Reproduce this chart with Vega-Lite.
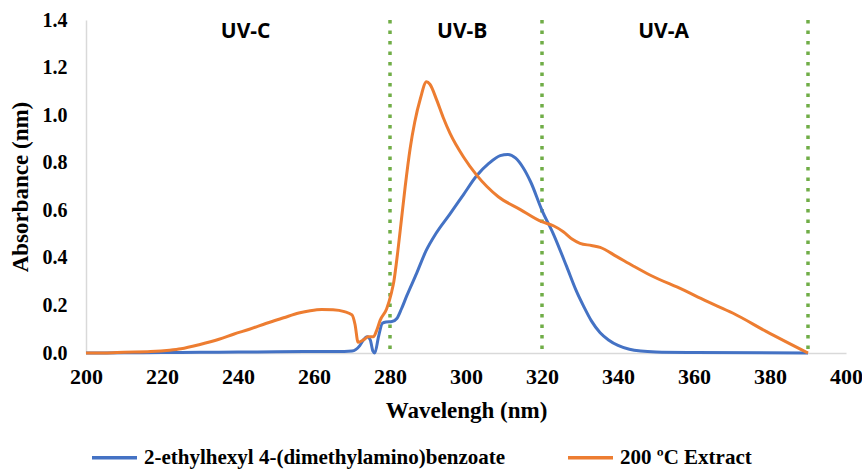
{
  "$schema": "https://vega.github.io/schema/vega-lite/v6.json",
  "autosize": {"type": "none"},
  "padding": {"left": 86, "top": 20, "right": 16, "bottom": 117},
  "width": 760,
  "height": 333,
  "background": "white",
  "config": {
    "view": {"stroke": null},
    "axis": {
      "labelFont": "Liberation Serif",
      "labelFontWeight": "bold",
      "labelColor": "black",
      "labelFlush": false,
      "titleFont": "Liberation Serif",
      "titleFontWeight": "bold",
      "titleColor": "black",
      "titleFontSize": 23,
      "grid": false,
      "ticks": false,
      "domainColor": "#d9d9d9",
      "domainWidth": 1.5
    }
  },
  "datasets": {
    "spectra": [
      {"series": "2-ethylhexyl 4-(dimethylamino)benzoate", "nm": 200, "abs": 0.0},
      {"series": "2-ethylhexyl 4-(dimethylamino)benzoate", "nm": 210, "abs": 0.001},
      {"series": "2-ethylhexyl 4-(dimethylamino)benzoate", "nm": 220, "abs": 0.002},
      {"series": "2-ethylhexyl 4-(dimethylamino)benzoate", "nm": 230, "abs": 0.003},
      {"series": "2-ethylhexyl 4-(dimethylamino)benzoate", "nm": 240, "abs": 0.004},
      {"series": "2-ethylhexyl 4-(dimethylamino)benzoate", "nm": 250, "abs": 0.005},
      {"series": "2-ethylhexyl 4-(dimethylamino)benzoate", "nm": 260, "abs": 0.006},
      {"series": "2-ethylhexyl 4-(dimethylamino)benzoate", "nm": 268, "abs": 0.006},
      {"series": "2-ethylhexyl 4-(dimethylamino)benzoate", "nm": 270, "abs": 0.008},
      {"series": "2-ethylhexyl 4-(dimethylamino)benzoate", "nm": 272, "abs": 0.03},
      {"series": "2-ethylhexyl 4-(dimethylamino)benzoate", "nm": 273, "abs": 0.055},
      {"series": "2-ethylhexyl 4-(dimethylamino)benzoate", "nm": 274, "abs": 0.068},
      {"series": "2-ethylhexyl 4-(dimethylamino)benzoate", "nm": 274.8, "abs": 0.055},
      {"series": "2-ethylhexyl 4-(dimethylamino)benzoate", "nm": 275.5, "abs": 0.008},
      {"series": "2-ethylhexyl 4-(dimethylamino)benzoate", "nm": 276, "abs": 0.0},
      {"series": "2-ethylhexyl 4-(dimethylamino)benzoate", "nm": 277, "abs": 0.07},
      {"series": "2-ethylhexyl 4-(dimethylamino)benzoate", "nm": 278, "abs": 0.125},
      {"series": "2-ethylhexyl 4-(dimethylamino)benzoate", "nm": 279, "abs": 0.13},
      {"series": "2-ethylhexyl 4-(dimethylamino)benzoate", "nm": 280.5, "abs": 0.132},
      {"series": "2-ethylhexyl 4-(dimethylamino)benzoate", "nm": 281.8, "abs": 0.145},
      {"series": "2-ethylhexyl 4-(dimethylamino)benzoate", "nm": 283, "abs": 0.185},
      {"series": "2-ethylhexyl 4-(dimethylamino)benzoate", "nm": 284.4, "abs": 0.24},
      {"series": "2-ethylhexyl 4-(dimethylamino)benzoate", "nm": 287, "abs": 0.335},
      {"series": "2-ethylhexyl 4-(dimethylamino)benzoate", "nm": 289.5, "abs": 0.43},
      {"series": "2-ethylhexyl 4-(dimethylamino)benzoate", "nm": 292, "abs": 0.5},
      {"series": "2-ethylhexyl 4-(dimethylamino)benzoate", "nm": 295.8, "abs": 0.585},
      {"series": "2-ethylhexyl 4-(dimethylamino)benzoate", "nm": 299.3, "abs": 0.665},
      {"series": "2-ethylhexyl 4-(dimethylamino)benzoate", "nm": 302.8, "abs": 0.745},
      {"series": "2-ethylhexyl 4-(dimethylamino)benzoate", "nm": 306, "abs": 0.797},
      {"series": "2-ethylhexyl 4-(dimethylamino)benzoate", "nm": 309, "abs": 0.83},
      {"series": "2-ethylhexyl 4-(dimethylamino)benzoate", "nm": 311, "abs": 0.835},
      {"series": "2-ethylhexyl 4-(dimethylamino)benzoate", "nm": 313, "abs": 0.82},
      {"series": "2-ethylhexyl 4-(dimethylamino)benzoate", "nm": 315, "abs": 0.78},
      {"series": "2-ethylhexyl 4-(dimethylamino)benzoate", "nm": 317, "abs": 0.72},
      {"series": "2-ethylhexyl 4-(dimethylamino)benzoate", "nm": 320, "abs": 0.6},
      {"series": "2-ethylhexyl 4-(dimethylamino)benzoate", "nm": 323, "abs": 0.5},
      {"series": "2-ethylhexyl 4-(dimethylamino)benzoate", "nm": 326.5, "abs": 0.363},
      {"series": "2-ethylhexyl 4-(dimethylamino)benzoate", "nm": 329, "abs": 0.262},
      {"series": "2-ethylhexyl 4-(dimethylamino)benzoate", "nm": 331, "abs": 0.195},
      {"series": "2-ethylhexyl 4-(dimethylamino)benzoate", "nm": 333, "abs": 0.135},
      {"series": "2-ethylhexyl 4-(dimethylamino)benzoate", "nm": 335.3, "abs": 0.085},
      {"series": "2-ethylhexyl 4-(dimethylamino)benzoate", "nm": 337.5, "abs": 0.055},
      {"series": "2-ethylhexyl 4-(dimethylamino)benzoate", "nm": 340, "abs": 0.032},
      {"series": "2-ethylhexyl 4-(dimethylamino)benzoate", "nm": 343, "abs": 0.016},
      {"series": "2-ethylhexyl 4-(dimethylamino)benzoate", "nm": 346, "abs": 0.008},
      {"series": "2-ethylhexyl 4-(dimethylamino)benzoate", "nm": 350, "abs": 0.004},
      {"series": "2-ethylhexyl 4-(dimethylamino)benzoate", "nm": 360, "abs": 0.002},
      {"series": "2-ethylhexyl 4-(dimethylamino)benzoate", "nm": 390, "abs": 0.0},
      {"series": "200 ºC Extract", "nm": 200, "abs": 0.0},
      {"series": "200 ºC Extract", "nm": 205, "abs": 0.0},
      {"series": "200 ºC Extract", "nm": 210, "abs": 0.003},
      {"series": "200 ºC Extract", "nm": 217, "abs": 0.006},
      {"series": "200 ºC Extract", "nm": 222, "abs": 0.012},
      {"series": "200 ºC Extract", "nm": 225, "abs": 0.018},
      {"series": "200 ºC Extract", "nm": 230, "abs": 0.036},
      {"series": "200 ºC Extract", "nm": 235, "abs": 0.058},
      {"series": "200 ºC Extract", "nm": 239, "abs": 0.08},
      {"series": "200 ºC Extract", "nm": 243, "abs": 0.1},
      {"series": "200 ºC Extract", "nm": 247.5, "abs": 0.125},
      {"series": "200 ºC Extract", "nm": 252, "abs": 0.148},
      {"series": "200 ºC Extract", "nm": 256, "abs": 0.168},
      {"series": "200 ºC Extract", "nm": 259, "abs": 0.178},
      {"series": "200 ºC Extract", "nm": 262, "abs": 0.183},
      {"series": "200 ºC Extract", "nm": 265, "abs": 0.182},
      {"series": "200 ºC Extract", "nm": 268, "abs": 0.174},
      {"series": "200 ºC Extract", "nm": 270, "abs": 0.16},
      {"series": "200 ºC Extract", "nm": 270.8, "abs": 0.12},
      {"series": "200 ºC Extract", "nm": 271.6, "abs": 0.045},
      {"series": "200 ºC Extract", "nm": 273, "abs": 0.055},
      {"series": "200 ºC Extract", "nm": 274.3, "abs": 0.068},
      {"series": "200 ºC Extract", "nm": 275.6, "abs": 0.068},
      {"series": "200 ºC Extract", "nm": 276.5, "abs": 0.095},
      {"series": "200 ºC Extract", "nm": 277.4, "abs": 0.137},
      {"series": "200 ºC Extract", "nm": 279.1, "abs": 0.185},
      {"series": "200 ºC Extract", "nm": 280.4, "abs": 0.255},
      {"series": "200 ºC Extract", "nm": 281, "abs": 0.3},
      {"series": "200 ºC Extract", "nm": 282, "abs": 0.42},
      {"series": "200 ºC Extract", "nm": 283, "abs": 0.56},
      {"series": "200 ºC Extract", "nm": 284, "abs": 0.7},
      {"series": "200 ºC Extract", "nm": 285.3, "abs": 0.86},
      {"series": "200 ºC Extract", "nm": 286.5, "abs": 0.97},
      {"series": "200 ºC Extract", "nm": 288, "abs": 1.07},
      {"series": "200 ºC Extract", "nm": 289.6, "abs": 1.14},
      {"series": "200 ºC Extract", "nm": 290.5, "abs": 1.13},
      {"series": "200 ºC Extract", "nm": 292.3, "abs": 1.063},
      {"series": "200 ºC Extract", "nm": 294, "abs": 0.99},
      {"series": "200 ºC Extract", "nm": 295.8, "abs": 0.923},
      {"series": "200 ºC Extract", "nm": 299.3, "abs": 0.825},
      {"series": "200 ºC Extract", "nm": 302.8, "abs": 0.748},
      {"series": "200 ºC Extract", "nm": 305.5, "abs": 0.7},
      {"series": "200 ºC Extract", "nm": 308.5, "abs": 0.657},
      {"series": "200 ºC Extract", "nm": 314.2, "abs": 0.604},
      {"series": "200 ºC Extract", "nm": 319.9, "abs": 0.552},
      {"series": "200 ºC Extract", "nm": 323, "abs": 0.535},
      {"series": "200 ºC Extract", "nm": 325.6, "abs": 0.51},
      {"series": "200 ºC Extract", "nm": 328, "abs": 0.478},
      {"series": "200 ºC Extract", "nm": 330, "abs": 0.461},
      {"series": "200 ºC Extract", "nm": 333, "abs": 0.452},
      {"series": "200 ºC Extract", "nm": 335.3, "abs": 0.444},
      {"series": "200 ºC Extract", "nm": 339.7, "abs": 0.405},
      {"series": "200 ºC Extract", "nm": 344, "abs": 0.366},
      {"series": "200 ºC Extract", "nm": 348.4, "abs": 0.328},
      {"series": "200 ºC Extract", "nm": 357.2, "abs": 0.265},
      {"series": "200 ºC Extract", "nm": 363, "abs": 0.22},
      {"series": "200 ºC Extract", "nm": 370.3, "abs": 0.167},
      {"series": "200 ºC Extract", "nm": 379.1, "abs": 0.09},
      {"series": "200 ºC Extract", "nm": 390, "abs": 0.0}
    ],
    "bands": [
      {"edge": 280},
      {"edge": 320},
      {"edge": 390}
    ],
    "regions": [
      {"name": "UV-C", "center": 242, "level": 1.35},
      {"name": "UV-B", "center": 299, "level": 1.35},
      {"name": "UV-A", "center": 352, "level": 1.35}
    ]
  },
  "layer": [
    {
      "data": {"name": "bands"},
      "mark": {"type": "rule", "color": "#70AD47", "strokeWidth": 3.5, "strokeDash": [3.5, 7]},
      "encoding": {
        "x": {"field": "edge", "type": "quantitative", "scale": {"domain": [200, 400]}}
      }
    },
    {
      "data": {"name": "spectra"},
      "mark": {"type": "line", "strokeWidth": 3, "interpolate": "monotone"},
      "encoding": {
        "x": {
          "field": "nm",
          "type": "quantitative",
          "scale": {"domain": [200, 400], "nice": false},
          "axis": {
            "title": "Wavelengh (nm)",
            "values": [200, 220, 240, 260, 280, 300, 320, 340, 360, 380, 400],
            "labelFontSize": 22,
            "labelPadding": 13,
            "titlePadding": 12
          }
        },
        "y": {
          "field": "abs",
          "type": "quantitative",
          "scale": {"domain": [0, 1.4], "nice": false},
          "axis": {
            "title": "Absorbance (nm)",
            "values": [0, 0.2, 0.4, 0.6, 0.8, 1.0, 1.2, 1.4],
            "format": ".1f",
            "labelFontSize": 20,
            "labelPadding": 19,
            "titlePadding": 10
          }
        },
        "color": {
          "field": "series",
          "type": "nominal",
          "scale": {
            "domain": ["2-ethylhexyl 4-(dimethylamino)benzoate", "200 ºC Extract"],
            "range": ["#4472C4", "#ED7D31"]
          },
          "legend": {
            "title": null,
            "orient": "none",
            "direction": "horizontal",
            "legendX": 4,
            "legendY": 413,
            "symbolType": "stroke",
            "symbolSize": 2025,
            "symbolStrokeWidth": 3.5,
            "labelFont": "Liberation Serif",
            "labelFontWeight": "bold",
            "labelFontSize": 21,
            "labelColor": "black",
            "labelOffset": 5,
            "labelLimit": 500,
            "columnPadding": 55
          }
        }
      }
    },
    {
      "data": {"name": "regions"},
      "mark": {"type": "text", "font": "Open Sans", "fontWeight": "bold", "fontSize": 21, "color": "black"},
      "encoding": {
        "x": {"field": "center", "type": "quantitative"},
        "y": {"field": "level", "type": "quantitative"},
        "text": {"field": "name"}
      }
    }
  ]
}
